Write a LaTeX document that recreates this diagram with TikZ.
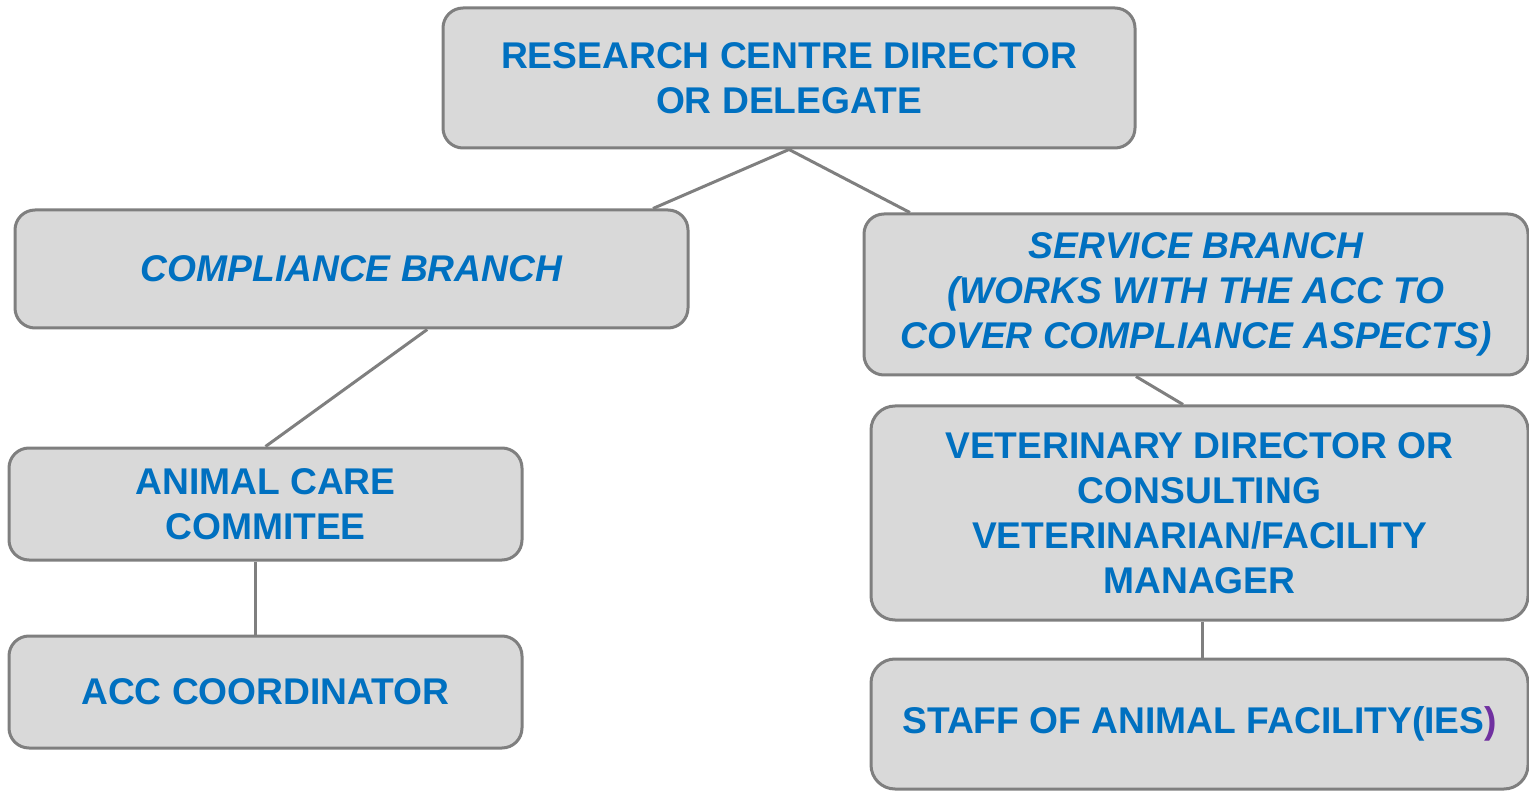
\documentclass[tikz,border=0pt]{standalone}
\usepackage{fontspec}
\setmainfont{Liberation Sans}
\usetikzlibrary{calc,backgrounds}
\definecolor{boxfill}{HTML}{D9D9D9}
\definecolor{boxline}{HTML}{7F7F7F}
\definecolor{txtblue}{HTML}{0070C0}
\definecolor{txtpurple}{HTML}{7030A0}
\tikzset{
  orgbox/.style={draw=boxline, fill=boxfill, line width=3pt, rounded corners=20pt,
    inner sep=0pt, align=center, text=txtblue,
    font=\fontsize{37.2pt}{45pt}\selectfont\bfseries},
  orgitalic/.style={orgbox, font=\fontsize{37.2pt}{45pt}\selectfont\bfseries\itshape},
  link/.style={draw=boxline, line width=3pt}
}
\begin{document}
\begin{tikzpicture}[x=1pt,y=-1pt]
\useasboundingbox (0,0) rectangle (1529,791);
\node[orgbox, minimum width=692pt, minimum height=140pt] (top) at (789,78)
  {RESEARCH CENTRE DIRECTOR\\OR DELEGATE};
\node[orgitalic, minimum width=673pt, minimum height=118pt] (comp) at (351.5,269)
  {COMPLIANCE BRANCH};
\node[orgitalic, minimum width=664pt, minimum height=161pt] (serv) at (1196,294.5)
  {SERVICE BRANCH\\(WORKS WITH THE ACC TO\\COVER COMPLIANCE ASPECTS)};
\node[orgbox, minimum width=513pt, minimum height=112pt] (acc) at (265.5,504)
  {ANIMAL CARE\\COMMITEE};
\node[orgbox, minimum width=513pt, minimum height=112pt] (coord) at (265.5,692)
  {ACC COORDINATOR};
\node[orgbox, rounded corners=24pt, minimum width=657pt, minimum height=214pt] (vet) at (1199.5,513)
  {VETERINARY DIRECTOR OR\\CONSULTING\\VETERINARIAN/FACILITY\\MANAGER};
\node[orgbox, rounded corners=24pt, minimum width=657pt, minimum height=130pt] (staff) at (1199.5,724)
  {STAFF OF ANIMAL FACILITY(IES\textcolor{txtpurple}{)}};
\begin{scope}[on background layer]
\draw[link] (top.south) -- ($(comp.north west)!0.946!(comp.north east)$);
\draw[link] (top.south) -- ($(serv.north west)!0.071!(serv.north east)$);
\draw[link] ($(comp.south west)!0.612!(comp.south east)$) -- ($(acc.north west)!0.5!(acc.north east)$);
\draw[link] ($(acc.south west)!0.48!(acc.south east)$) -- ($(coord.north west)!0.48!(coord.north east)$);
\draw[link] ($(serv.south west)!0.41!(serv.south east)$) -- ($(vet.north west)!0.475!(vet.north east)$);
\draw[link] ($(vet.south west)!0.505!(vet.south east)$) -- ($(staff.north west)!0.505!(staff.north east)$);
\end{scope}
\end{tikzpicture}
\end{document}
